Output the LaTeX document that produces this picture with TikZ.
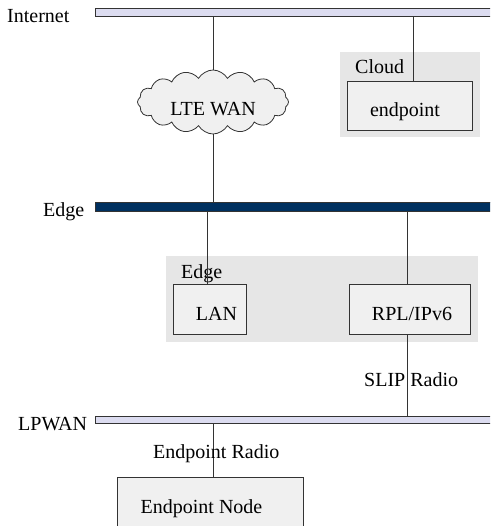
\documentclass[tikz,border=0pt]{standalone}
\usepackage{fontspec}
\setmainfont{Liberation Serif}
\usetikzlibrary{shapes.symbols}
\definecolor{barlav}{HTML}{DCDCF0}
\definecolor{barnavy}{HTML}{00305F}
\definecolor{grpgray}{HTML}{E6E6E6}
\definecolor{boxgray}{HTML}{F0F0F0}
\definecolor{linegray}{HTML}{333333}
\tikzset{
  txt/.style={font=\fontsize{20}{24}\selectfont},
  lbl/.style={txt, inner sep=0pt, anchor=base west},
  lavbar/.style={draw=linegray, line width=1pt, fill=barlav, rectangle, inner sep=0pt, anchor=north west},
  navybar/.style={draw=linegray, line width=1pt, fill=barnavy, rectangle, inner sep=0pt, anchor=north west},
  grp/.style={fill=grpgray, draw=none, rectangle, inner sep=0pt, anchor=north west},
  box/.style={txt, draw=linegray, line width=0.8pt, fill=boxgray, rectangle, inner sep=0pt,
              minimum height=50pt, text height=22pt, text depth=0pt},
  cloudnode/.style={txt, cloud, draw=linegray, line width=0.8pt, fill=boxgray, inner sep=0pt,
              cloud puffs=16, cloud puff arc=120, aspect=2.4,
              minimum width=151pt, minimum height=64pt, text height=28pt, text depth=0pt},
  conn/.style={draw=linegray, line width=0.8pt}
}
\begin{document}
\begin{tikzpicture}[x=1pt,y=-1pt]
\useasboundingbox (0,0) rectangle (490,526);
\clip (0,0) rectangle (490,526);
\fill[white] (0,0) rectangle (490,526);

% group backgrounds
\node[grp, minimum width=140pt, minimum height=85pt] (cloudgrp) at (340,52) {};
\node[grp, minimum width=312pt, minimum height=86pt] (edgegrp) at (166,256) {};

% bars
\node[lavbar, minimum width=420pt, minimum height=8pt] (inet) at (95,8) {};
\node[navybar, minimum width=420pt, minimum height=9pt] (edgebar) at (95,202) {};
\node[lavbar, minimum width=420pt, minimum height=7pt] (lpwan) at (95,416) {};

% bar labels
\node[lbl] (inetlbl) at (7,22.5) {Internet};
\node[lbl] (edgelbl) at (43,216.5) {Edge};
\node[lbl] (lpwanlbl) at (18,430) {LPWAN};

% group labels
\node[lbl] (cloudgrplbl) at (355,74) {Cloud};
\node[lbl] (edgegrplbl) at (181,278) {Edge};

% nodes
\node[cloudnode] (lte) at (213,102) {LTE WAN};
\node[box, minimum width=125pt, minimum height=49pt] (endpoint) at (409.5,105.5) {endpoint\hspace*{9pt}};
\node[box, minimum width=73pt] (lan) at (209.5,309) {\hspace*{14pt}LAN};
\node[box, minimum width=121pt] (rpl) at (409.5,309) {\hspace*{5pt}RPL/IPv6};
\node[box, minimum width=186pt] (epnode) at (210,502) {Endpoint Node\hspace*{17pt}};

% tap coordinates
\coordinate (tapA) at (213,0);
\coordinate (tapB) at (413,0);
\coordinate (tapC) at (207,0);
\coordinate (tapD) at (407,0);

% connectors
\draw[conn] (inet.south -| tapA) -- (lte.north -| tapA);
\draw[conn] (inet.south -| tapB) -- (endpoint.north -| tapB);
\draw[conn] (lte.south -| tapA) -- (edgebar.north -| tapA);
\draw[conn] (edgebar.south -| tapC) -- (lan.north -| tapC);
\draw[conn] (edgebar.south -| tapD) -- (rpl.north -| tapD);
\draw[conn] (rpl.south -| tapD) -- (lpwan.north -| tapD);
\draw[conn] (lpwan.south -| tapA) -- (epnode.north -| tapA);

% connector labels
\node[lbl] (sliplbl) at (364,386.5) {SLIP Radio};
\node[lbl] (eplbl) at (153,458) {Endpoint Radio};
\end{tikzpicture}
\end{document}
